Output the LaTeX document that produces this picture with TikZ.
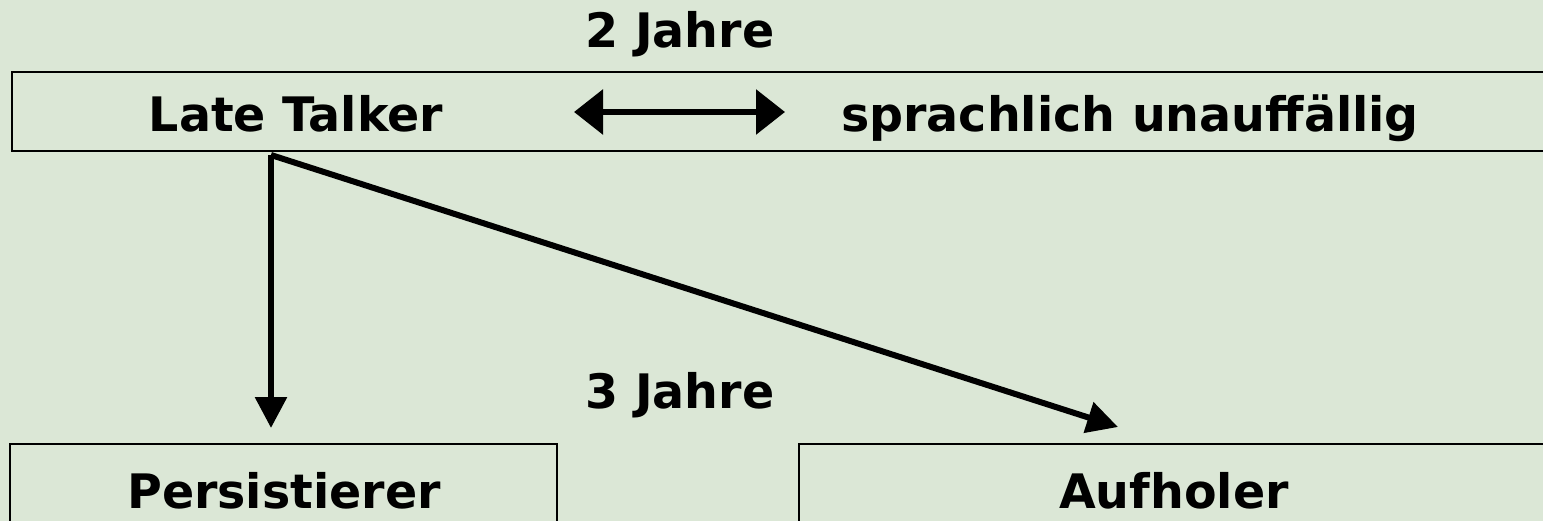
\documentclass[tikz,border=0pt]{standalone}
\usepackage{fontspec}
\setmainfont{DejaVu Sans}
\usetikzlibrary{arrows.meta}
\definecolor{bgsage}{RGB}{219,231,214}
\tikzset{
  label text/.style={font=\bfseries\fontsize{47.5bp}{57bp}\selectfont, anchor=base, inner sep=0pt},
  frame/.style={draw=black, line width=1.8bp},
  flow/.style={draw=black, line width=6bp, -{Triangle[length=31bp,width=31bp]}},
  both ways/.style={draw=black, line width=6bp, {Triangle[length=29bp,width=44bp]}-{Triangle[length=29bp,width=44bp]}}
}
\begin{document}
\begin{tikzpicture}[x=1bp,y=-1bp]
  % canvas
  \fill[bgsage] (0,0) rectangle (1543,521);
  \useasboundingbox (0,0) rectangle (1543,521);
  \clip (0,0) rectangle (1543,521);

  % frames (running off the page edges)
  \draw[frame] (1560,72) -- (12,72) -- (12,151) -- (1560,151);
  \draw[frame] (10,540) -- (10,444) -- (557,444) -- (557,540);
  \draw[frame] (799,540) -- (799,444) -- (1560,444);

  % labels
  \node[label text] (j2) at (680,48) {2 Jahre};
  \node[label text] (lt) at (296,132) {Late Talker};
  \node[label text] (su) at (1130,132) {sprachlich unauffällig};
  \node[label text] (j3) at (680,408) {3 Jahre};
  \node[label text] (pe) at (284,508) {Persistierer};
  \node[label text] (au) at (1174,508) {Aufholer};

  % connector end points
  \coordinate (src) at (271,155);
  \coordinate (peIn) at (271,428);
  \coordinate (auIn) at (1118,427);
  \coordinate (eqL) at (574,112);
  \coordinate (eqR) at (785,112);

  % connectors
  \draw[both ways] (eqL) -- (eqR);
  \draw[flow] (src) -- (peIn);
  \draw[flow] (src) -- (auIn);
\end{tikzpicture}
\end{document}
